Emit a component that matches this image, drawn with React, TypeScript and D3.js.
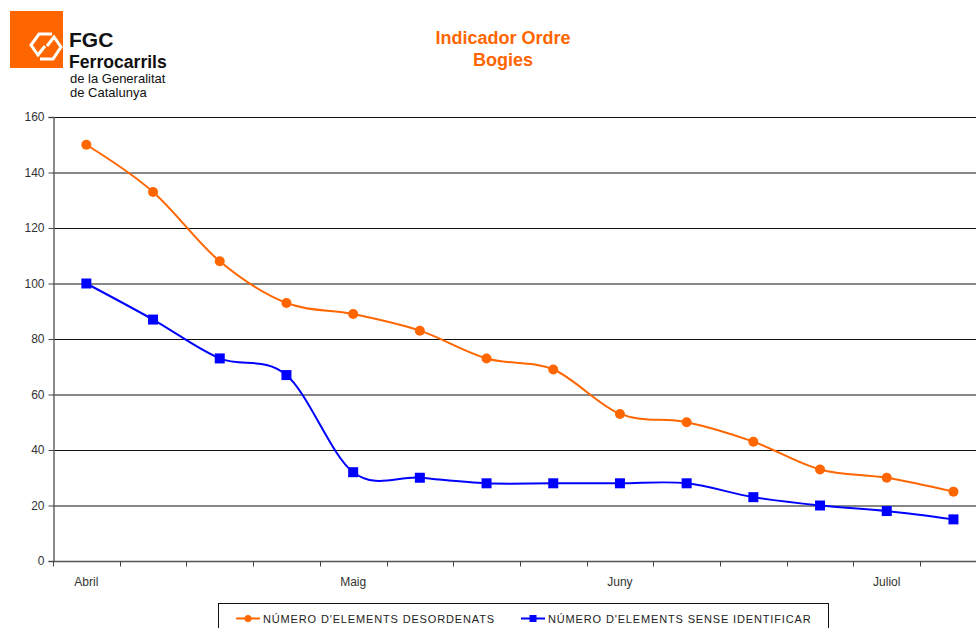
import React, { useRef, useEffect } from 'react';
import * as d3 from 'd3';

// weekly points, month labels only on every 4th week
const weeks = ['s1', 's2', 's3', 's4', 's5', 's6', 's7', 's8', 's9', 's10', 's11', 's12', 's13', 's14'];
const monthLabels = ['Abril', '', '', '', 'Maig', '', '', '', 'Juny', '', '', '', 'Juliol', ''];
const desordenats = [150, 133, 108, 93, 89, 83, 73, 69, 53, 50, 43, 33, 30, 25];
const senseIdentificar = [100, 87, 73, 67, 32, 30, 28, 28, 28, 28, 23, 20, 18, 15];
const yTicks = [0, 20, 40, 60, 80, 100, 120, 140, 160];

const ORANGE = '#FF6600';
const BLUE = '#0000FF';
const FONT = 'Liberation Sans, Arial, sans-serif';

const W = 976;
const H = 628;
const m = { left: 53, top: 117, bottom: 561 };

const App = () => {
    const gRef = useRef(null);

    useEffect(() => {
        const svg = d3.select(gRef.current);
        svg.selectAll('*').remove();

        const x = d3.scaleBand().domain(weeks).range([m.left, m.left + 66.7 * weeks.length]);
        const y = d3.scaleLinear().domain([0, 160]).range([m.bottom, m.top]);

        // gridlines
        svg.append('g')
            .selectAll('line')
            .data(yTicks.slice(1))
            .join('line')
            .attr('x1', m.left).attr('x2', W)
            .attr('y1', d => y(d) + 0.5).attr('y2', d => y(d) + 0.5)
            .attr('stroke', '#111').attr('stroke-width', 1.2);

        // y axis
        const yAxis = svg.append('g')
            .attr('transform', `translate(${m.left + 0.5},0)`)
            .call(d3.axisLeft(y).tickValues(yTicks).tickSize(5).tickPadding(4).tickFormat(d3.format('d')));
        yAxis.select('.domain').attr('stroke', '#666').attr('stroke-width', 1.5);
        yAxis.selectAll('.tick line').attr('stroke', '#444');
        yAxis.selectAll('text').attr('font-family', FONT).attr('font-size', 12).attr('fill', '#333');

        // x axis: ticks at band boundaries
        const xAxisG = svg.append('g').attr('transform', `translate(0,${m.bottom + 0.5})`);
        xAxisG.append('line')
            .attr('x1', m.left).attr('x2', W)
            .attr('stroke', '#555').attr('stroke-width', 1.5);
        xAxisG.selectAll('line.tk')
            .data(weeks)
            .join('line')
            .attr('class', 'tk')
            .attr('x1', d => Math.round(x(d)) + 0.5).attr('x2', d => Math.round(x(d)) + 0.5)
            .attr('y1', 0).attr('y2', 5)
            .attr('stroke', '#444');
        xAxisG.selectAll('text')
            .data(weeks)
            .join('text')
            .attr('x', d => x(d) + x.bandwidth() / 2)
            .attr('y', 24)
            .attr('text-anchor', 'middle')
            .attr('font-family', FONT).attr('font-size', 12).attr('fill', '#333')
            .text((d, i) => monthLabels[i]);

        const cx = (i) => x(weeks[i]) + x.bandwidth() / 2;
        const line = d3.line().x((d, i) => cx(i)).y(d => y(d)).curve(d3.curveCatmullRom.alpha(0));

        svg.append('path').datum(desordenats)
            .attr('d', line).attr('fill', 'none').attr('stroke', ORANGE).attr('stroke-width', 2);
        svg.append('path').datum(senseIdentificar)
            .attr('d', line).attr('fill', 'none').attr('stroke', BLUE).attr('stroke-width', 2);

        svg.append('g').selectAll('circle')
            .data(desordenats)
            .join('circle')
            .attr('cx', (d, i) => cx(i)).attr('cy', d => y(d)).attr('r', 5)
            .attr('fill', ORANGE);
        svg.append('g').selectAll('rect')
            .data(senseIdentificar)
            .join('rect')
            .attr('x', (d, i) => cx(i) - 5).attr('y', d => y(d) - 5)
            .attr('width', 10).attr('height', 10)
            .attr('fill', BLUE);

        // title
        const title = svg.append('g').attr('font-family', FONT).attr('font-weight', 'bold')
            .attr('font-size', 18).attr('fill', ORANGE).attr('text-anchor', 'middle');
        title.append('text').attr('x', 503).attr('y', 44).text('Indicador Ordre');
        title.append('text').attr('x', 503).attr('y', 66).text('Bogies');

        // legend
        const lg = svg.append('g');
        lg.append('rect').attr('x', 218.5).attr('y', 603.5).attr('width', 610).attr('height', 40)
            .attr('fill', 'white').attr('stroke', '#111');
        const items = [
            { label: "NÚMERO D'ELEMENTS DESORDENATS", color: ORANGE, x: 236, shape: 'circle' },
            { label: "NÚMERO D'ELEMENTS SENSE IDENTIFICAR", color: BLUE, x: 521, shape: 'rect' }
        ];
        items.forEach(it => {
            lg.append('line').attr('x1', it.x).attr('x2', it.x + 24).attr('y1', 618.5).attr('y2', 618.5)
                .attr('stroke', it.color).attr('stroke-width', 2);
            if (it.shape === 'circle') {
                lg.append('circle').attr('cx', it.x + 12).attr('cy', 618.5).attr('r', 3.5).attr('fill', it.color);
            } else {
                lg.append('rect').attr('x', it.x + 8.5).attr('y', 615).attr('width', 7).attr('height', 7).attr('fill', it.color);
            }
            lg.append('text').attr('x', it.x + 27).attr('y', 622.5)
                .attr('font-family', FONT).attr('font-size', 11).attr('letter-spacing', 0.85)
                .attr('fill', '#222').text(it.label);
        });
    }, []);

    return (
        <svg width={W} height={H}
             style={{ position: 'absolute', left: 0, top: 0, background: 'white' }}>
            {/* FGC logo */}
            <rect x={10} y={11} width={53} height={57} fill={ORANGE} />
            <g fill="none" stroke="white" strokeWidth={3} strokeLinejoin="miter">
                <path d="M52 34 L39 34 L31 45 L38 55 L45 46" />
                <path d="M40 59 L53 59 L61 47 L54 37 L47 46" />
            </g>
            <g fontFamily={FONT} fill="#111">
                <text x={69} y={47} fontSize={21} fontWeight="bold">FGC</text>
                <text x={69} y={68} fontSize={17.6} fontWeight="bold">Ferrocarrils</text>
                <text x={70} y={83} fontSize={13}>de la Generalitat</text>
                <text x={70} y={97} fontSize={13}>de Catalunya</text>
            </g>
            <g ref={gRef} />
        </svg>
    );
};

export default App;
